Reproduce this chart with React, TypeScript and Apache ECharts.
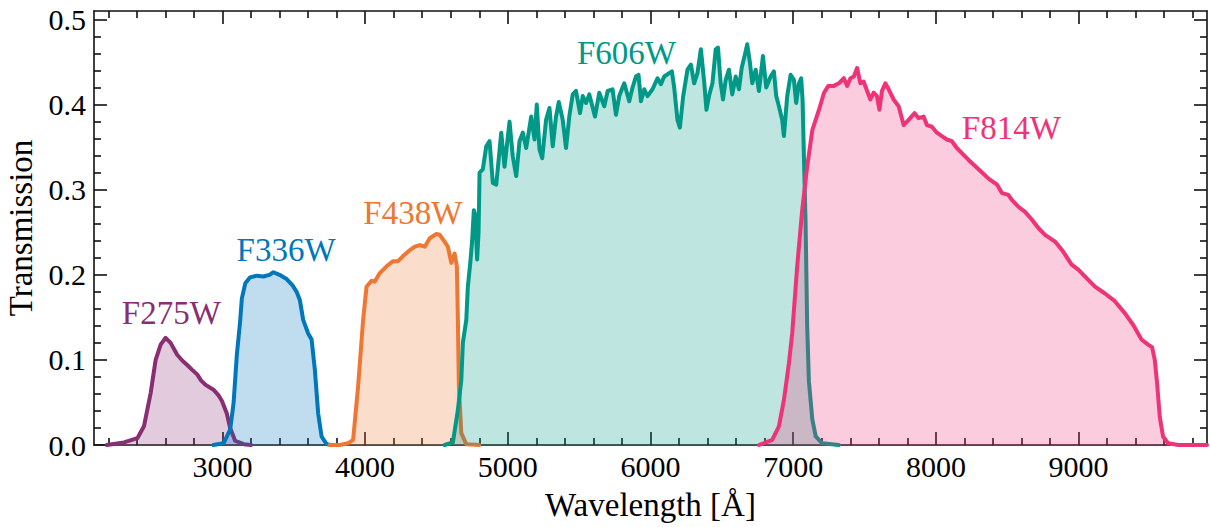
import React, { useEffect, useRef } from "react";
import * as echarts from "echarts";

const X_MIN = 2100;
const X_MAX = 9900;
const Y_MIN = 0;
const Y_MAX = 0.51;

const xMajorTicks = [3000, 4000, 5000, 6000, 7000, 8000, 9000];
const xMinorTicks = [2200, 2400, 2600, 2800, 3200, 3400, 3600, 3800, 4200, 4400, 4600, 4800, 5200, 5400, 5600, 5800, 6200, 6400, 6600, 6800, 7200, 7400, 7600, 7800, 8200, 8400, 8600, 8800, 9200, 9400, 9600, 9800];
const yMajorTicks = [0, 0.1, 0.2, 0.3, 0.4, 0.5];
const yMinorTicks = [0.02, 0.04, 0.06, 0.08, 0.12, 0.14, 0.16, 0.18, 0.22, 0.24, 0.26, 0.28, 0.32, 0.34, 0.36, 0.38, 0.42, 0.44, 0.46, 0.48];

const filterNames = ["F275W", "F336W", "F438W", "F606W", "F814W"];
const filterColors = ["#882E72", "#0077BB", "#EE7733", "#009988", "#EE3377"];
// label anchor positions [wavelength, transmission]
const labelPositions = [
  [2642, 0.155],
  [3446, 0.229],
  [4334, 0.273],
  [5831, 0.461],
  [8529, 0.373],
];

const f275w = [
  [2190, 0.0], [2310, 0.003], [2404, 0.008], [2450, 0.022], [2497, 0.061], [2532, 0.1], [2567, 0.118], [2602, 0.126], [2637, 0.12], [2683, 0.106], [2720, 0.099], [2753, 0.094], [2790, 0.088], [2823, 0.083], [2850, 0.076], [2880, 0.071], [2937, 0.065], [2970, 0.059], [2996, 0.052], [3031, 0.037], [3054, 0.02], [3089, 0.005], [3149, 0.001], [3200, 0.0],
];

const f336w = [
  [2937, 0.0], [3008, 0.002], [3054, 0.018], [3078, 0.049], [3101, 0.106], [3124, 0.145], [3136, 0.172], [3160, 0.19], [3194, 0.197], [3240, 0.199], [3287, 0.198], [3330, 0.2], [3357, 0.203], [3400, 0.2], [3450, 0.195], [3490, 0.188], [3520, 0.18], [3543, 0.17], [3566, 0.147], [3601, 0.131], [3625, 0.124], [3648, 0.088], [3671, 0.037], [3695, 0.01], [3730, 0.001], [3760, 0.0],
];

const f438w = [
  [3750, 0.0], [3823, 0.0], [3880, 0.002], [3916, 0.006], [3951, 0.069], [3986, 0.147], [4010, 0.186], [4045, 0.193], [4068, 0.192], [4103, 0.202], [4150, 0.21], [4196, 0.216], [4231, 0.216], [4266, 0.222], [4313, 0.229], [4348, 0.233], [4383, 0.235], [4418, 0.233], [4453, 0.243], [4499, 0.248], [4522, 0.247], [4557, 0.239], [4580, 0.233], [4604, 0.214], [4627, 0.225], [4643, 0.21], [4650, 0.147], [4657, 0.069], [4674, 0.014], [4709, 0.001], [4800, 0.0],
];

const f606w = [
  [4557, 0.0], [4615, 0.003], [4650, 0.041], [4674, 0.076], [4685, 0.12], [4709, 0.147], [4720, 0.186], [4737, 0.214], [4750, 0.24], [4762, 0.276], [4772, 0.27], [4785, 0.218], [4795, 0.25], [4802, 0.32], [4825, 0.324], [4849, 0.351], [4872, 0.357], [4895, 0.308], [4919, 0.306], [4954, 0.367], [4977, 0.327], [5012, 0.38], [5035, 0.339], [5059, 0.316], [5082, 0.357], [5105, 0.367], [5129, 0.349], [5164, 0.386], [5187, 0.359], [5203, 0.4], [5222, 0.347], [5241, 0.337], [5268, 0.382], [5292, 0.396], [5315, 0.351], [5338, 0.386], [5357, 0.403], [5385, 0.382], [5408, 0.349], [5431, 0.386], [5455, 0.412], [5478, 0.416], [5506, 0.39], [5525, 0.41], [5548, 0.402], [5571, 0.412], [5611, 0.386], [5641, 0.414], [5676, 0.398], [5700, 0.416], [5734, 0.418], [5758, 0.388], [5781, 0.41], [5816, 0.425], [5851, 0.404], [5874, 0.42], [5898, 0.433], [5916, 0.435], [5933, 0.404], [5956, 0.418], [5979, 0.41], [6014, 0.418], [6049, 0.431], [6073, 0.424], [6096, 0.433], [6131, 0.437], [6150, 0.439], [6166, 0.42], [6189, 0.382], [6206, 0.373], [6229, 0.41], [6259, 0.441], [6283, 0.447], [6306, 0.425], [6329, 0.437], [6353, 0.465], [6376, 0.427], [6392, 0.394], [6410, 0.41], [6434, 0.425], [6457, 0.465], [6473, 0.467], [6492, 0.425], [6508, 0.406], [6527, 0.429], [6550, 0.441], [6573, 0.412], [6597, 0.433], [6620, 0.418], [6639, 0.443], [6662, 0.459], [6678, 0.471], [6697, 0.449], [6713, 0.425], [6737, 0.441], [6760, 0.416], [6788, 0.457], [6811, 0.42], [6842, 0.433], [6865, 0.439], [6881, 0.41], [6900, 0.398], [6923, 0.382], [6935, 0.363], [6958, 0.41], [6982, 0.435], [7005, 0.429], [7021, 0.402], [7040, 0.425], [7056, 0.431], [7066, 0.405], [7075, 0.34], [7087, 0.26], [7098, 0.14], [7110, 0.075], [7134, 0.03], [7158, 0.01], [7203, 0.002], [7320, 0.0],
];

const f814w = [
  [6760, 0.0], [6853, 0.006], [6900, 0.022], [6935, 0.053], [6970, 0.096], [6993, 0.131], [7028, 0.21], [7063, 0.276], [7098, 0.327], [7134, 0.37], [7181, 0.394], [7216, 0.414], [7246, 0.422], [7285, 0.422], [7320, 0.425], [7355, 0.431], [7378, 0.422], [7401, 0.431], [7425, 0.433], [7448, 0.443], [7471, 0.425], [7494, 0.427], [7518, 0.416], [7541, 0.406], [7564, 0.414], [7587, 0.41], [7604, 0.394], [7622, 0.416], [7646, 0.425], [7669, 0.418], [7704, 0.406], [7739, 0.398], [7774, 0.376], [7809, 0.382], [7851, 0.39], [7879, 0.384], [7914, 0.386], [7937, 0.376], [7972, 0.374], [8007, 0.367], [8042, 0.363], [8077, 0.359], [8112, 0.357], [8147, 0.349], [8182, 0.343], [8229, 0.335], [8299, 0.324], [8369, 0.313], [8428, 0.306], [8463, 0.296], [8508, 0.294], [8532, 0.288], [8578, 0.28], [8625, 0.274], [8672, 0.265], [8718, 0.255], [8765, 0.247], [8835, 0.239], [8893, 0.227], [8951, 0.212], [8998, 0.206], [9068, 0.194], [9115, 0.186], [9185, 0.178], [9254, 0.169], [9324, 0.155], [9383, 0.141], [9441, 0.124], [9487, 0.118], [9515, 0.115], [9534, 0.1], [9550, 0.073], [9569, 0.033], [9592, 0.01], [9627, 0.002], [9700, 0.0], [9900, 0.0],
];

const filterData = [f275w, f336w, f438w, f606w, f814w];

const FONT = "'Liberation Serif', 'DejaVu Serif', serif";
const AXIS_COLOR = "#111111";

function makeXAxis(position: "top" | "bottom", ticks: number[], len: number, withLine: boolean, withLabels: boolean, name?: string) {
  return {
    type: "value",
    position,
    min: X_MIN,
    max: X_MAX,
    splitLine: { show: false },
    axisLine: { show: withLine, onZero: false, lineStyle: { color: AXIS_COLOR, width: 1.6 } },
    axisTick: { show: true, inside: true, length: len, customValues: ticks, lineStyle: { color: AXIS_COLOR, width: 1.6 } },
    axisLabel: withLabels
      ? { show: true, customValues: ticks, margin: 6, color: "#000", fontFamily: FONT, fontSize: 30, formatter: (v: number) => String(v) }
      : { show: false },
    name: name,
    nameLocation: "middle",
    nameGap: 43,
    nameTextStyle: { color: "#000", fontFamily: FONT, fontSize: 33 },
  };
}

function makeYAxis(position: "left" | "right", ticks: number[], len: number, withLine: boolean, withLabels: boolean, name?: string) {
  return {
    type: "value",
    position,
    min: Y_MIN,
    max: Y_MAX,
    splitLine: { show: false },
    axisLine: { show: withLine, onZero: false, lineStyle: { color: AXIS_COLOR, width: 1.6 } },
    axisTick: { show: true, inside: true, length: len, customValues: ticks, lineStyle: { color: AXIS_COLOR, width: 1.6 } },
    axisLabel: withLabels
      ? { show: true, customValues: ticks, margin: 8, color: "#000", fontFamily: FONT, fontSize: 30, formatter: (v: number) => v.toFixed(1) }
      : { show: false },
    name: name,
    nameLocation: "middle",
    nameGap: 56,
    nameTextStyle: { color: "#000", fontFamily: FONT, fontSize: 33 },
  };
}

export default function App() {
  const ref = useRef<HTMLDivElement>(null);
  useEffect(() => {
    if (!ref.current) return;
    const chart = echarts.init(ref.current, undefined, { renderer: "svg" });
    const lineSeries = filterData.map((d, i) => ({
      type: "line",
      name: filterNames[i],
      data: d,
      showSymbol: false,
      symbol: "none",
      smooth: false,
      z: 2 + i,
      lineStyle: { color: filterColors[i], width: 4, join: "round", cap: "round" },
      itemStyle: { color: filterColors[i] },
      areaStyle: { color: filterColors[i], opacity: 0.25, origin: "start" },
      emphasis: { disabled: true },
    }));
    const labelSeries = filterNames.map((nm, i) => ({
      type: "scatter",
      z: 20,
      symbolSize: 0,
      itemStyle: { color: filterColors[i], opacity: 1 },
      emphasis: { disabled: true },
      label: {
        show: true,
        position: "inside",
        formatter: nm,
        color: filterColors[i],
        opacity: 1,
        textBorderWidth: 0,
        fontFamily: FONT,
        fontSize: 33,
      },
      data: [labelPositions[i]],
    }));
    chart.setOption({
      animation: false,
      backgroundColor: "#ffffff",
      grid: { left: 94, right: 3, top: 11, bottom: 82, containLabel: false, outerBoundsMode: "none" },
      xAxis: [
        makeXAxis("bottom", xMajorTicks, 13, true, true, "Wavelength [Å]"),
        makeXAxis("bottom", xMinorTicks, 7, false, false),
        makeXAxis("top", xMajorTicks, 13, true, false),
        makeXAxis("top", xMinorTicks, 7, false, false),
      ],
      yAxis: [
        makeYAxis("left", yMajorTicks, 13, true, true, "Transmission"),
        makeYAxis("left", yMinorTicks, 7, false, false),
        makeYAxis("right", yMajorTicks, 13, true, false),
        makeYAxis("right", yMinorTicks, 7, false, false),
      ],
      series: [...lineSeries, ...labelSeries],
    });
    return () => chart.dispose();
  }, []);
  return <div ref={ref} style={{ position: "fixed", left: 0, top: 0, width: 1210, height: 527 }} />;
}
